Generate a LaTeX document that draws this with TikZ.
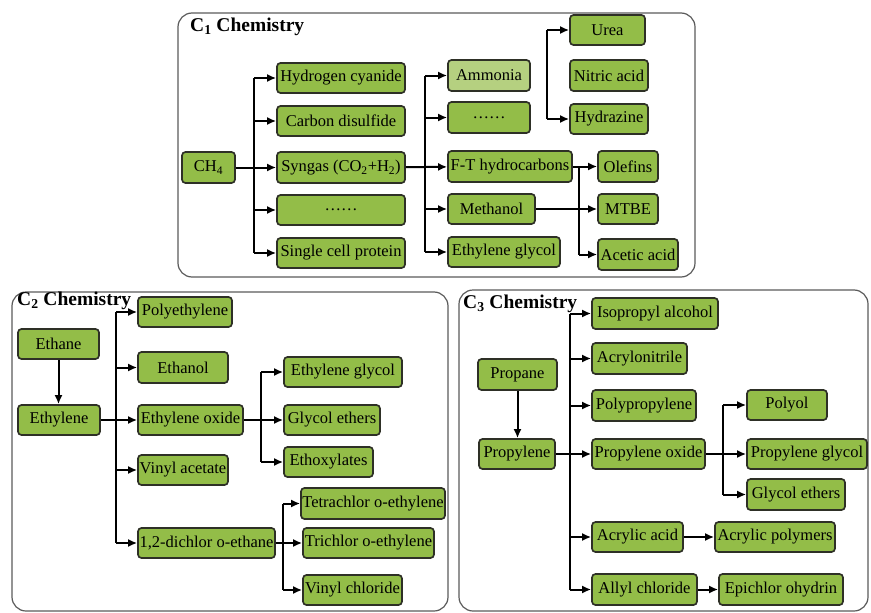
\documentclass[tikz,border=0pt]{standalone}
\usepackage{fontspec}
\setmainfont{Liberation Serif}
\usetikzlibrary{arrows.meta}

\definecolor{boxfill}{HTML}{93BD48}
\definecolor{boxlight}{HTML}{B5D080}
\definecolor{boxline}{HTML}{2E3026}
\definecolor{panelline}{HTML}{5A5A5A}

\tikzset{
  box/.style={draw=boxline, fill=boxfill, line width=1.7pt, rounded corners=3.5pt,
    inner sep=0pt, font=\fontsize{16.5}{18}\selectfont, text=black},
  panel/.style={draw=panelline, line width=1.2pt, rounded corners=14pt},
  title/.style={anchor=west, inner sep=0pt, font=\fontsize{19.5}{21}\selectfont\bfseries},
  conn/.style={line width=2pt, draw=black},
  arr/.style={conn, -{Latex[length=9pt,width=8pt]}},
}

% \mkbox[extra]{name}{x1}{y1}{x2}{y2}{text}
\newcommand\mkbox[7][]{%
  \node[box,#1,minimum width={(#5-#3)*1pt},minimum height={(#6-#4)*1pt}]
    (#2) at ({(#3+#5)/2},{(#4+#6)/2}) {#7};}

\begin{document}
\begin{tikzpicture}[x=1pt,y=-1pt]
\useasboundingbox (0,0) rectangle (871,613);

% ---------------- panels ----------------
\draw[panel] (178,13) rectangle (695,277);
\draw[panel] (12,292) rectangle (448,611);
\draw[panel] (459,290) rectangle (868,611);

\node[title] (t1) at (190,27) {C\textsubscript{1} Chemistry};
\node[title] (t2) at (17,301) {C\textsubscript{2} Chemistry};
\node[title] (t3) at (463,304) {C\textsubscript{3} Chemistry};

% ---------------- C1 chemistry ----------------
\mkbox{ch4}{182}{152}{235}{183}{CH\textsubscript{4}}
\mkbox{hcn}{277}{63}{405}{93}{Hydrogen cyanide}
\mkbox{cs2}{277}{106}{405}{136}{Carbon disulfide}
\mkbox{syn}{277}{152}{405}{183}{Syngas (CO\textsubscript{2}+H\textsubscript{2})}
\mkbox{dotsA}{277}{195}{405}{225}{\ldots\ldots}
\mkbox{scp}{277}{238}{405}{268}{Single cell protein}

\mkbox[fill=boxlight]{nh3}{448}{60}{530}{91}{Ammonia}
\mkbox{dotsB}{448}{102}{530}{133}{\ldots\ldots}
\mkbox{ft}{448}{151}{572}{182}{F-T hydrocarbons}
\mkbox{meoh}{448}{194}{535}{224}{Methanol}
\mkbox{eg1}{448}{237}{560}{267}{Ethylene glycol}

\mkbox{urea}{570}{15}{645}{45}{Urea}
\mkbox{hno3}{570}{60}{648}{91}{Nitric acid}
\mkbox{hydr}{570}{104}{648}{134}{Hydrazine}

\mkbox{olef}{598}{151}{658}{182}{Olefins}
\mkbox{mtbe}{598}{194}{658}{224}{MTBE}
\mkbox{acet}{598}{239}{678}{270}{Acetic acid}

\coordinate (b1) at (254,0);
\coordinate (b2) at (425,0);
\coordinate (b3) at (547,0);
\coordinate (b4) at (579,0);

\draw[arr] (ch4) -- (syn);
\draw[conn] (b1 |- hcn.west) -- (b1 |- scp.west);
\foreach \n in {hcn,cs2,dotsA,scp} \draw[arr] (b1 |- \n.west) -- (\n.west);

\draw[arr] (syn) -- (ft);
\draw[conn] (b2 |- nh3.west) -- (b2 |- eg1.west);
\foreach \n in {nh3,dotsB,meoh,eg1} \draw[arr] (b2 |- \n.west) -- (\n.west);

\draw[conn] (b3 |- urea.west) -- (b3 |- hydr.west);
\foreach \n in {urea,hydr} \draw[arr] (b3 |- \n.west) -- (\n.west);

\draw[conn] (ft.east) -- (b4 |- ft.east) -- (b4 |- acet.west);
\draw[arr] (b4 |- olef.west) -- (olef.west);
\draw[arr] (b4 |- acet.west) -- (acet.west);
\draw[arr] (meoh) -- (mtbe);

% ---------------- C2 chemistry ----------------
\mkbox{ethane}{18}{329}{99}{359}{Ethane}
\mkbox{ethylene}{18}{405}{100}{435}{Ethylene}
\mkbox{pe}{138}{297}{232}{327}{Polyethylene}
\mkbox{etoh}{138}{352}{228}{383}{Ethanol}
\mkbox{eo}{138}{405}{243}{435}{Ethylene oxide}
\mkbox{va}{138}{455}{228}{485}{Vinyl acetate}
\mkbox{edc}{138}{528}{275}{558}{1,2-dichlor o-ethane}

\mkbox{eg2}{284}{357}{402}{387}{Ethylene glycol}
\mkbox{ge1}{284}{405}{380}{435}{Glycol ethers}
\mkbox{etx}{284}{447}{373}{477}{Ethoxylates}

\mkbox{tce4}{301}{488}{445}{519}{Tetrachlor o-ethylene}
\mkbox{tce3}{303}{528}{434}{558}{Trichlor o-ethylene}
\mkbox{vcm}{303}{575}{402}{605}{Vinyl chloride}

\coordinate (c1) at (116,0);
\coordinate (c2) at (261,0);
\coordinate (c3) at (283,0);

\draw[arr] (ethane.south) -- (ethane.south |- ethylene.north);
\draw[arr] (ethylene) -- (eo);
\draw[conn] (c1 |- pe.west) -- (c1 |- edc.west);
\foreach \n in {pe,etoh,va,edc} \draw[arr] (c1 |- \n.west) -- (\n.west);

\draw[arr] (eo) -- (ge1);
\draw[conn] (c2 |- eg2.west) -- (c2 |- etx.west);
\foreach \n in {eg2,etx} \draw[arr] (c2 |- \n.west) -- (\n.west);

\draw[arr] (edc) -- (tce3);
\draw[conn] (c3 |- tce4.west) -- (c3 |- vcm.west);
\foreach \n in {tce4,vcm} \draw[arr] (c3 |- \n.west) -- (\n.west);

% ---------------- C3 chemistry ----------------
\mkbox{propane}{478}{359}{557}{390}{Propane}
\mkbox{propylene}{479}{439}{555}{469}{Propylene}
\mkbox{ipa}{592}{298}{718}{329}{Isopropyl alcohol}
\mkbox{acn}{592}{343}{687}{374}{Acrylonitrile}
\mkbox{pp}{592}{390}{696}{421}{Polypropylene}
\mkbox{po}{592}{439}{705}{469}{Propylene oxide}
\mkbox{aa}{592}{522}{683}{552}{Acrylic acid}
\mkbox{ac}{592}{574}{697}{605}{Allyl chloride}

\mkbox{polyol}{747}{390}{827}{420}{Polyol}
\mkbox{pg}{747}{439}{867}{469}{Propylene glycol}
\mkbox{ge2}{747}{479}{845}{510}{Glycol ethers}
\mkbox{apol}{715}{522}{835}{552}{Acrylic polymers}
\mkbox{epi}{719}{574}{843}{605}{Epichlor ohydrin}

\coordinate (d1) at (570,0);
\coordinate (d2) at (723,0);

\draw[arr] (propane.south) -- (propane.south |- propylene.north);
\draw[arr] (propylene) -- (po);
\draw[conn] (d1 |- ipa.west) -- (d1 |- ac.west);
\foreach \n in {ipa,acn,pp,aa,ac} \draw[arr] (d1 |- \n.west) -- (\n.west);

\draw[arr] (po) -- (pg);
\draw[conn] (d2 |- polyol.west) -- (d2 |- ge2.west);
\foreach \n in {polyol,ge2} \draw[arr] (d2 |- \n.west) -- (\n.west);

\draw[arr] (aa) -- (apol);
\draw[arr] (ac) -- (epi);
\end{tikzpicture}
\end{document}
